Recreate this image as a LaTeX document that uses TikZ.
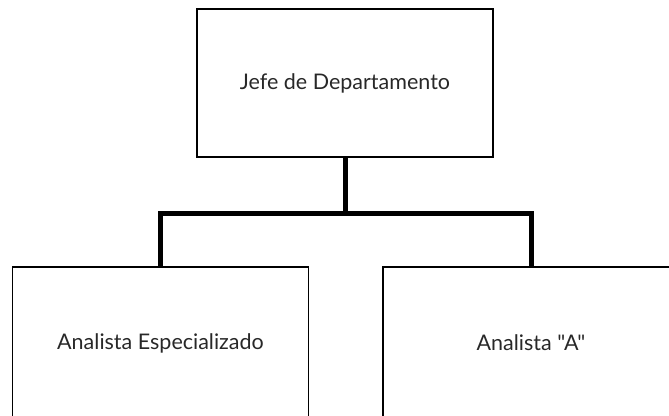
\documentclass[tikz,border=0pt]{standalone}
\usepackage{fontspec}
\setmainfont{Lato}[Ligatures=TeXOff]
\usepackage{tikz}
\usetikzlibrary{positioning}
\definecolor{textgray}{RGB}{40,40,40}

\begin{document}
\begin{tikzpicture}[x=1pt, y=-1pt,
    puesto/.style={draw=black, line width=1.6pt, minimum width=296pt, minimum height=148pt,
      inner sep=0pt, text=textgray, font=\fontsize{21.5}{26}\selectfont},
    enlace/.style={draw=black, line width=5pt}]
  \useasboundingbox (0,0) rectangle (669,415);
  \clip (0,0) rectangle (669,415);
  % cargos
  \node[puesto] (jefe) at (345,83) {Jefe de Departamento};
  \node[puesto, minimum height=152pt] (espec) at (160.5,343) {Analista Especializado};
  \node[puesto, minimum height=152pt] (anA) at (531,343) {Analista "A"};
  % lineas de mando
  \coordinate (bus) at (345,213);
  \draw[enlace] (jefe.south) -- (jefe.south |- bus);
  \draw[enlace] (espec.north) -- (espec.north |- bus) -- (anA.north |- bus) -- (anA.north);
\end{tikzpicture}
\end{document}
